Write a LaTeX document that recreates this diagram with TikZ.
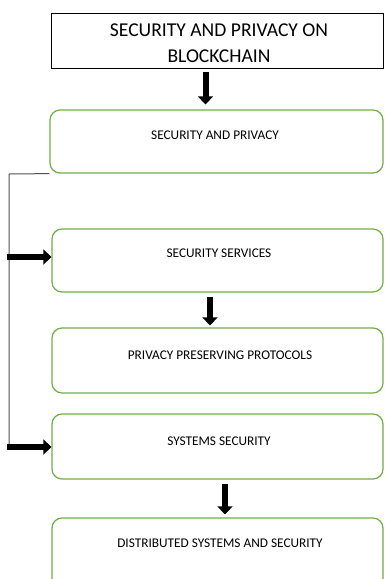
\documentclass[tikz,border=0pt]{standalone}
\usepackage{fontspec}
\setmainfont{Carlito}
\usetikzlibrary{arrows.meta,calc}
\definecolor{boxgreen}{RGB}{112,173,71}
\definecolor{linkgray}{RGB}{80,80,80}
\begin{document}
\begin{tikzpicture}[x=1pt,y=-1pt,
  gbox/.style={draw=boxgreen,line width=1.2pt,rounded corners=10pt,inner sep=0pt},
  tbox/.style={draw=black,line width=0.8pt,inner sep=0pt},
  bigarrow/.style={line width=6pt,-{Triangle[length=8pt,width=15pt]}},
  lab/.style={font=\fontsize{13.3}{15}\selectfont,inner sep=0pt},
  link/.style={draw=linkgray,line width=1pt}]
\useasboundingbox (0,0) rectangle (384,579);
\clip (0,0) rectangle (384,579);
\node[tbox,minimum width=332pt,minimum height=55pt] (top) at (217,40.5) {};
\node[font=\fontsize{19.6}{26}\selectfont,align=center,inner sep=0pt] (toptext) at (219,43) {SECURITY AND PRIVACY ON\\BLOCKCHAIN};
\node[gbox,minimum width=333pt,minimum height=63pt] (b1) at (216.5,141.5) {};
\node[gbox,minimum width=331pt,minimum height=63pt] (b2) at (217.5,260.5) {};
\node[gbox,minimum width=331pt,minimum height=65pt] (b3) at (217.5,360.5) {};
\node[gbox,minimum width=331pt,minimum height=65pt] (b4) at (217.5,446.5) {};
\node[gbox,minimum width=331pt,minimum height=80pt] (b5) at (217.5,558) {};
\node[lab] (t1) at (215,135) {SECURITY AND PRIVACY};
\node[lab] (t2) at (219,253.5) {SECURITY SERVICES};
\node[lab] (t3) at (220,355) {PRIVACY PRESERVING PROTOCOLS};
\node[lab] (t4) at (219,441) {SYSTEMS SECURITY};
\node[lab] (t5) at (220,543.5) {DISTRIBUTED SYSTEMS AND SECURITY};
\draw[bigarrow,shorten <=4pt,shorten >=5pt] (top.south -| 205.5,0) -- (b1.north -| 205.5,0);
\draw[bigarrow,shorten <=4pt,shorten >=2pt] (b2.south -| 210,0) -- (b3.north -| 210,0);
\draw[bigarrow,shorten <=4pt,shorten >=3pt] (b4.south -| 225,0) -- (b5.north -| 225,0);
\coordinate (corner) at (9,174);
\coordinate (bend) at (9,444);
\draw[link] (b1.south west) -- (corner) -- (bend);
\draw[bigarrow] (7,257) -- (b2.west |- 0,257);
\draw[bigarrow] (7,447) -- (b4.west |- 0,447);
\end{tikzpicture}
\end{document}
